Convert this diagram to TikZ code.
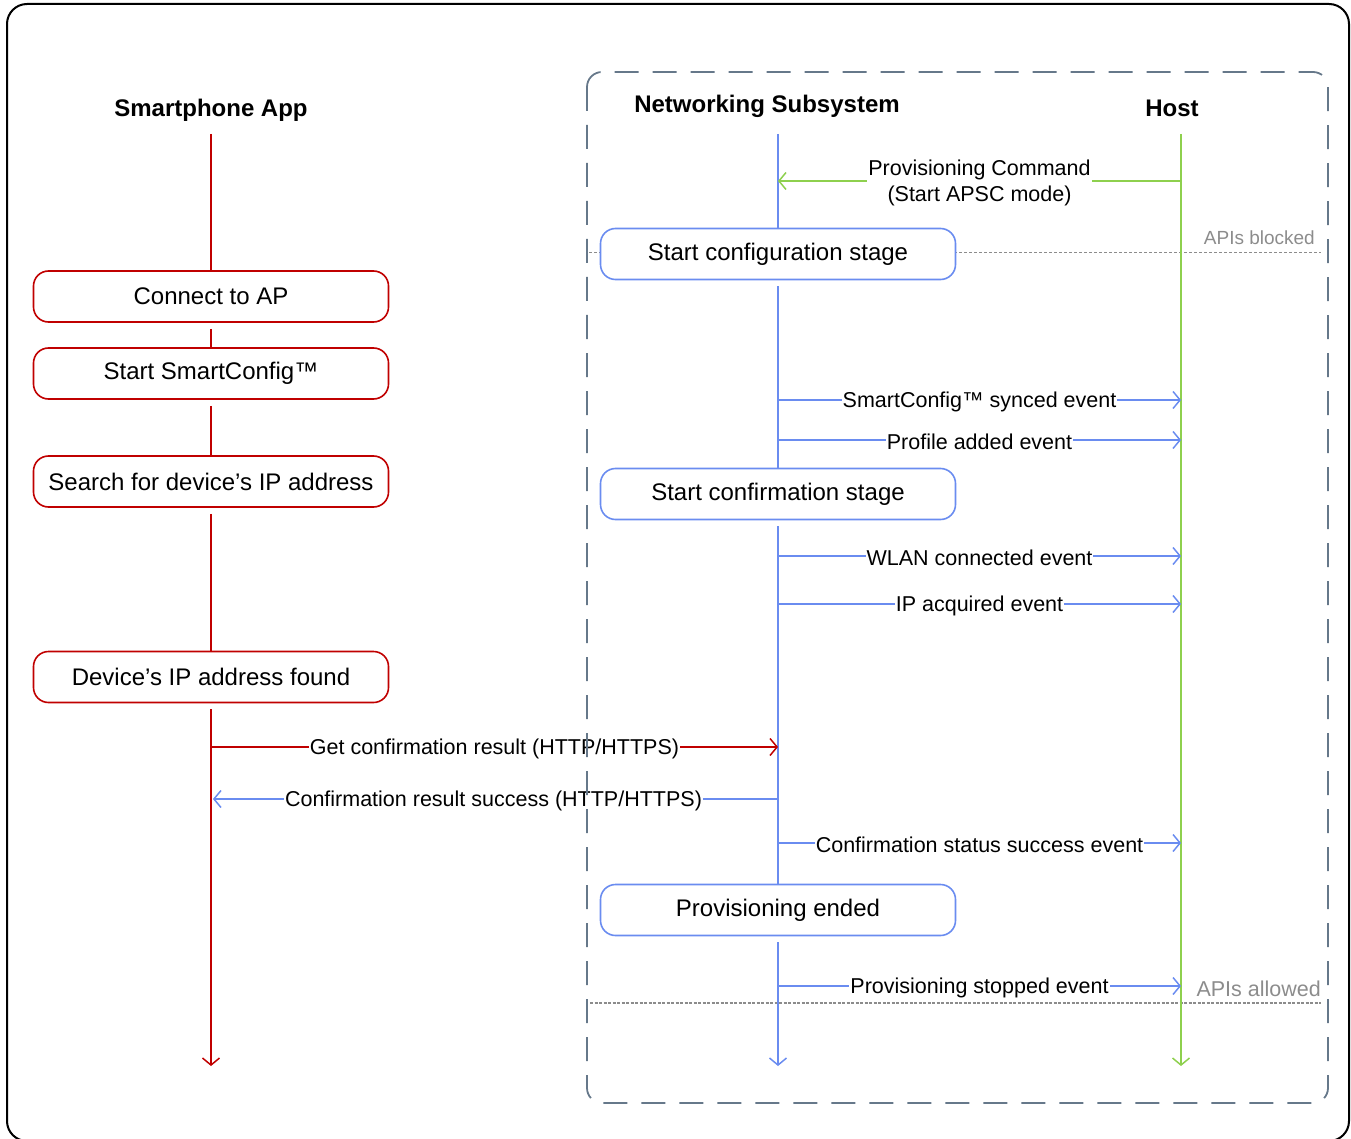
\documentclass[tikz,border=0pt]{standalone}
\usepackage{fontspec}
\setmainfont{Liberation Sans}
\usetikzlibrary{arrows.meta}
\definecolor{appred}{HTML}{C00000}
\definecolor{netblue}{HTML}{6A8CF0}
\definecolor{hostgreen}{HTML}{8ED04E}
\definecolor{framegray}{HTML}{66788A}
\definecolor{apigray}{HTML}{8C8C8C}
\begin{document}
\begin{tikzpicture}[x=1pt,y=-1pt,
  life/.style={line width=1.5pt},
  tipend/.style={-{Straight Barb[length=7pt,width=17pt]}},
  stagebox/.style={draw, line width=1.6pt, rounded corners=15pt, minimum width=355pt,
    minimum height=51pt, fill=white, inner sep=0pt, text=black, font=\fontsize{24}{28}\selectfont},
  head/.style={font=\bfseries\fontsize{24}{28}\selectfont, anchor=base},
  msg/.style={font=\fontsize{21.5}{26}\selectfont, fill=white, text=black, inner sep=1pt, yshift=-1.5pt},
  apinote/.style={font=\fontsize{19}{23}\selectfont, text=apigray, anchor=base east, inner sep=0pt},
  gap/.style={shorten <=6pt}
]
\useasboundingbox (0,0) rectangle (1351,1139);
% outer border
\draw[line width=2pt, rounded corners=20pt] (7,4) rectangle (1349,1141);

% headings
\node[head] (happ) at (211,117) {Smartphone App};
\node[head] (hnet) at (767,113) {Networking Subsystem};
\node[head] (hhost) at (1172,117) {Host};

% lifeline coordinates
\coordinate (a0) at (211,134);
\coordinate (aend) at (211,1066);
\coordinate (n0) at (778,134);
\coordinate (nend) at (778,1066);
\coordinate (h0) at (1181,134);
\coordinate (hend) at (1181,1066);

% API boundary lines
\coordinate (blkL) at (589,253);
\coordinate (blkR) at (1321,253);
\coordinate (alwL) at (590,1003);
\coordinate (alwR) at (1321,1003);
\draw[apigray, line width=1pt, dash pattern=on 3pt off 2pt] (blkL) -- (blkR);
\draw[apigray, line width=2pt, dash pattern=on 3pt off 1.5pt] (alwL) -- (alwR);
\node[apinote] (tblk) at (1315,245) {APIs blocked};
\node[apinote, font=\fontsize{21.5}{25}\selectfont] (talw) at (1321,996) {APIs allowed};

% boxes
\node[stagebox, draw=appred] (b1) at (211,296.5) {Connect to AP};
\node[stagebox, draw=appred] (b2) at (211,373.5) {Start SmartConfig™};
\node[stagebox, draw=appred] (b3) at (211,481.5) {Search for device’s IP address};
\node[stagebox, draw=appred] (b4) at (211,677) {Device’s IP address found};
\node[stagebox, draw=netblue] (c1) at (778,254) {Start configuration stage};
\node[stagebox, draw=netblue] (c2) at (778,494) {Start confirmation stage};
\node[stagebox, draw=netblue] (c3) at (778,910) {Provisioning ended};

% smartphone lifeline
\draw[appred, life] (a0) -- (b1.north);
\draw[appred, life, gap] (b1.south) -- (b2.north);
\draw[appred, life, gap] (b2.south) -- (b3.north);
\draw[appred, life, gap] (b3.south) -- (b4.north);
\draw[appred, life, gap, tipend] (b4.south) -- (aend);

% networking lifeline
\draw[netblue, life] (n0) -- (c1.north);
\draw[netblue, life, gap] (c1.south) -- (c2.north);
\draw[netblue, life, gap] (c2.south) -- (c3.north);
\draw[netblue, life, gap, tipend] (c3.south) -- (nend);

% host lifeline
\draw[hostgreen, life, tipend] (h0) -- (hend);

% messages
\coordinate (nA) at (778,181);  \coordinate (hA) at (1181,181);
\coordinate (nB) at (778,400);  \coordinate (hB) at (1181,400);
\coordinate (nC) at (778,440);  \coordinate (hC) at (1181,440);
\coordinate (nD) at (778,556);  \coordinate (hD) at (1181,556);
\coordinate (nE) at (778,604);  \coordinate (hE) at (1181,604);
\coordinate (aF) at (211,747);  \coordinate (nF) at (778,747);
\coordinate (aG) at (213,799);  \coordinate (nG) at (778,799);
\coordinate (nH) at (778,843);  \coordinate (hH) at (1181,843);
\coordinate (nI) at (778,986);  \coordinate (hI) at (1181,986);

\draw[hostgreen, life, tipend] (hA) -- node[msg, align=center] {Provisioning Command\\(Start APSC mode)} (nA);
\draw[netblue, life, tipend] (nB) -- node[msg] {SmartConfig™ synced event} (hB);
\draw[netblue, life, tipend] (nC) -- node[msg] {Profile added event} (hC);
\draw[netblue, life, tipend] (nD) -- node[msg] {WLAN connected event} (hD);
\draw[netblue, life, tipend] (nE) -- node[msg] {IP acquired event} (hE);
\draw[appred, life, tipend] (aF) -- node[msg] {Get confirmation result (HTTP/HTTPS)} (nF);
\draw[netblue, life, tipend] (nG) -- node[msg, xshift=-2pt] {Confirmation result success (HTTP/HTTPS)} (aG);
\draw[netblue, life, tipend] (nH) -- node[msg] {Confirmation status success event} (hH);
\draw[netblue, life, tipend] (nI) -- node[msg] {Provisioning stopped event} (hI);

% dashed subsystem frame (drawn on top)
\draw[framegray, line width=1.8pt, dash pattern=on 24pt off 14pt, rounded corners=15pt]
  (587,72) rectangle (1328,1103);
\end{tikzpicture}
\end{document}
